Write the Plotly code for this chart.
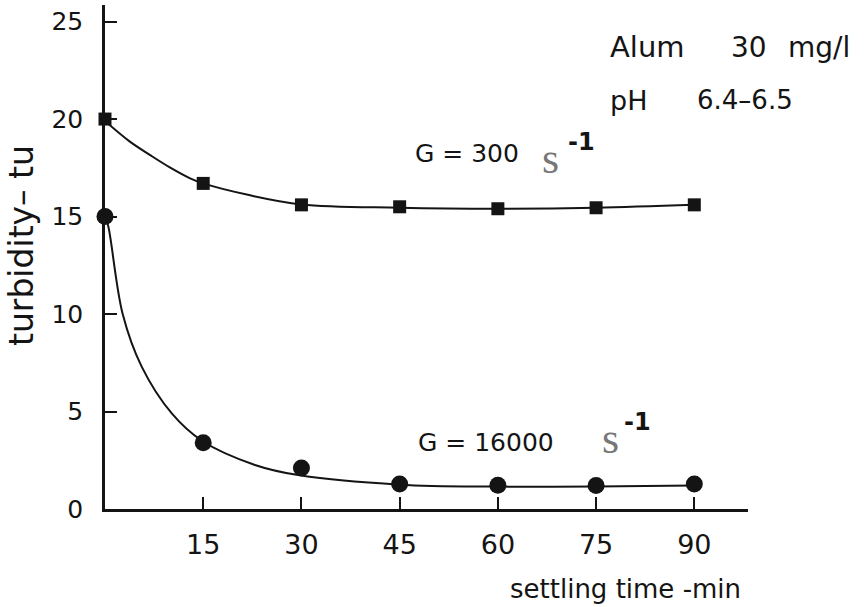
import plotly.graph_objects as go

# ---- data ----
time_min = [0, 15, 30, 45, 60, 75, 90]
turb_g300 = [20.0, 16.7, 15.6, 15.5, 15.4, 15.45, 15.6]
turb_g16000 = [15.0, 3.4, 2.1, 1.28, 1.22, 1.2, 1.28]

# fitted curves as drawn
curve300_t = [0, 3.8, 6.9, 9.9, 13, 15, 22, 30, 45, 60, 75, 90]
curve300_v = [19.9, 18.84, 18.15, 17.52, 16.96, 16.7, 16.1, 15.62, 15.45, 15.4, 15.45, 15.6]
curve16000_t = [0, 0.5, 2.7, 5.6, 10.2, 14.8, 22.9, 29.5, 45, 60, 75, 90]
curve16000_v = [15.0, 14.5, 10.0, 7.3, 4.9, 3.5, 2.26, 1.74, 1.25, 1.15, 1.15, 1.2]

x_ticks = [15, 30, 45, 60, 75, 90]
y_ticks = [0, 5, 10, 15, 20, 25]

INK = "#141414"
FONT = "DejaVu Sans"

fig = go.Figure()

# smooth curves
fig.add_trace(go.Scatter(x=curve300_t, y=curve300_v, mode="lines",
                         line=dict(color=INK, width=2, shape="spline", smoothing=1.0),
                         hoverinfo="skip", showlegend=False, cliponaxis=False))
fig.add_trace(go.Scatter(x=curve16000_t, y=curve16000_v, mode="lines",
                         line=dict(color=INK, width=2, shape="spline", smoothing=1.0),
                         hoverinfo="skip", showlegend=False, cliponaxis=False))
# markers
fig.add_trace(go.Scatter(x=time_min, y=turb_g300, mode="markers",
                         marker=dict(symbol="square", size=13, color=INK),
                         showlegend=False, cliponaxis=False))
fig.add_trace(go.Scatter(x=time_min, y=turb_g16000, mode="markers",
                         marker=dict(symbol="circle", size=17, color=INK),
                         showlegend=False, cliponaxis=False))

fig.update_layout(
    width=864, height=607,
    margin=dict(l=105, r=116, t=5, b=98),
    paper_bgcolor="white", plot_bgcolor="white",
    font=dict(family=FONT, color=INK),
    xaxis=dict(range=[0, 98.2], tickvals=x_ticks, ticktext=[str(v) for v in x_ticks],
               ticks="inside", ticklen=12, tickwidth=2, tickcolor=INK,
               showline=True, linecolor=INK, linewidth=2.5, showgrid=False,
               zeroline=False, tickfont=dict(size=27, family=FONT, color=INK),
               ticklabelstandoff=10),
    yaxis=dict(range=[0, 25.85], tickvals=y_ticks, ticktext=[str(v) for v in y_ticks],
               ticks="inside", ticklen=12, tickwidth=2, tickcolor=INK,
               showline=True, linecolor=INK, linewidth=2.5, showgrid=False,
               zeroline=False, tickfont=dict(size=25, family=FONT, color=INK),
               ticklabelstandoff=14),
)

def txt(x, y, s, size=24, anchor="left", color=INK, family=FONT):
    fig.add_annotation(x=x, y=y, xref="paper", yref="paper", text=s, showarrow=False,
                       xanchor=anchor, yanchor="middle",
                       font=dict(size=size, family=family, color=color))

W, H = 864, 607
def px(xp):
    return (xp - 105) / (W - 105 - 116)
def py(yp):
    return (H - 98 - yp) / (H - 5 - 98)

# axis titles
fig.add_annotation(x=px(22), y=py(246), xref="paper", yref="paper",
                   text="turbidity– tu", textangle=-90, showarrow=False,
                   xanchor="center", yanchor="middle",
                   font=dict(size=33, family=FONT, color=INK))
txt(px(508), py(589), "settling time -min", size=26)

# condition labels
txt(px(608), py(47), "Alum", size=29)
txt(px(729), py(47), "30", size=28)
txt(px(786), py(47), "mg/l", size=28)
txt(px(608), py(100), "pH", size=27)
txt(px(695), py(100), "6.4–6.5", size=26)

# G labels
txt(px(413), py(154), "G = 300", size=25)
txt(px(540), py(158), "s", size=44, color="#777777", family="Liberation Serif")
txt(px(566), py(142), "<b>-1</b>", size=24)
txt(px(416), py(442), "G = 16000", size=25)
txt(px(600), py(438), "s", size=44, color="#777777", family="Liberation Serif")
txt(px(622), py(422), "<b>-1</b>", size=24)

fig.write_html("out.html", config={"displayModeBar": False},
               post_script="document.body.style.margin='0';")
